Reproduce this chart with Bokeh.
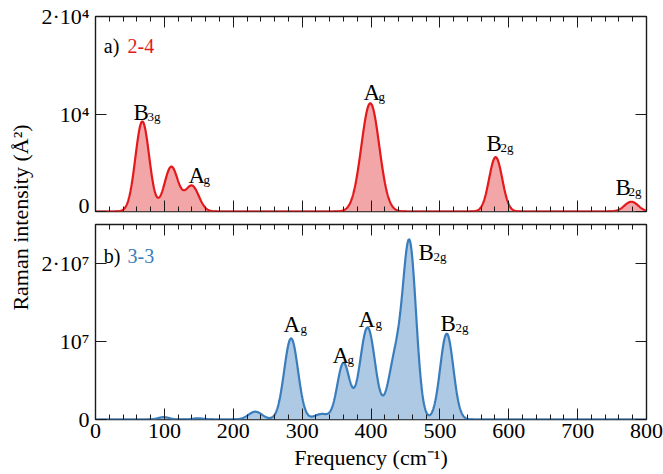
import numpy as np
from bokeh.plotting import figure
from bokeh.layouts import row, column
from bokeh.models import LinearAxis, FixedTicker, Range1d, CustomJSTickFormatter
from bokeh.core.properties import value
from bokeh.embed import file_html
from bokeh.resources import INLINE

FONT = "Liberation Serif"

# ---------------- data ----------------
# x axis
x_ticks = [0, 100, 200, 300, 400, 500, 600, 700, 800]
x_minor = list(range(0, 801, 20))

# panel a) 2-4 : Raman modes (frequency cm^-1, peak intensity A^2, broadening)
freq_a = [68, 110, 140, 399, 581, 778]
amp_a = [9230, 4570, 2620, 11100, 5570, 1000]
width_a = [10, 10, 10, 13, 9.5, 10]
yticks_a = [0, 10000, 20000]
ylabels_a = {0: "0", 10000: "10\u2074", 20000: "2\u00b710\u2074"}

# panel b) 3-3
freq_b = [99, 149, 232, 284, 328, 360, 395, 435, 456, 510]
amp_b = [0.03e7, 0.015e7, 0.1e7, 1.04e7, 0.07e7, 0.72e7, 1.18e7, 0.75e7, 2.22e7, 1.1e7]
width_b = [8, 8, 10, 10, 10, 9, 11, 10, 9.5, 9.5]
yticks_b = [0, 10000000, 20000000]
ylabels_b = {0: "0", 10000000: "10\u2077", 20000000: "2\u00b710\u2077"}

# mode labels: (main, subscript, x_main, y_main, x_sub, y_sub)
marks_a = [
    ("B", "3g", 55.2, 10154, 75.5, 9744),
    ("A", "g", 135.0, 3692, 156.8, 3282),
    ("A", "g", 389.1, 12205, 410.9, 11795),
    ("B", "2g", 567.7, 6974, 588.0, 6564),
    ("B", "2g", 755.0, 2462, 773.9, 2051),
]
marks_b = [
    ("A", "g", 273.0, 1.218e7, 297.6, 1.167e7),
    ("A", "g", 344.1, 0.8205e7, 365.9, 0.769e7),
    ("A", "g", 381.9, 1.282e7, 406.5, 1.231e7),
    ("B", "2g", 469.0, 2.141e7, 490.7, 2.09e7),
    ("B", "2g", 500.9, 1.231e7, 522.7, 1.179e7),
]

RED, RED_FILL = "#e3191c", "#f3a6a8"
BLUE, BLUE_FILL = "#3a7dbd", "#aec9e3"
INK = "#1a1a1a"

xs = np.linspace(0, 800, 1601)


def spectrum(freqs, amps, widths):
    y = np.zeros_like(xs)
    for f, a, w in zip(freqs, amps, widths):
        y += a * np.exp(-((xs - f) ** 2) / (2.0 * w * w))
    return y


def style_axis(ax, show_labels):
    ax.axis_line_color = None
    ax.major_tick_in = 11
    ax.major_tick_out = 0
    ax.minor_tick_in = 5
    ax.minor_tick_out = 0
    ax.major_tick_line_color = INK
    ax.minor_tick_line_color = INK
    ax.major_tick_line_width = 1
    ax.minor_tick_line_width = 1
    ax.major_label_text_font = FONT
    ax.major_label_text_color = "black"
    ax.axis_label_text_font = FONT
    ax.axis_label_text_font_style = "normal"
    ax.axis_label_text_color = "black"
    if show_labels:
        ax.major_label_text_font_size = "22px"
    else:
        ax.formatter = CustomJSTickFormatter(code="return ''")
        ax.major_label_text_font_size = "1px"
        ax.major_label_standoff = 0


def make_panel(y_end, yticks, ylabels, freqs, amps, widths, color, fill,
               tag, tag_y, marks, bottom, top_border, bottom_border):
    p = figure(frame_width=551, frame_height=195,
               x_range=Range1d(0, 800), y_range=Range1d(0, y_end),
               output_backend="svg", toolbar_location=None,
               min_border_left=57, min_border_right=17,
               min_border_top=top_border, min_border_bottom=bottom_border)
    p.grid.visible = False
    p.outline_line_color = INK
    p.outline_line_width = 1.4
    p.background_fill_color = "white"
    p.border_fill_color = "white"
    p.add_layout(LinearAxis(), "above")
    p.add_layout(LinearAxis(), "right")

    for ax in p.xaxis:
        ax.ticker = FixedTicker(ticks=x_ticks, minor_ticks=x_minor)
    for ax in p.yaxis:
        ax.ticker = FixedTicker(ticks=yticks, minor_ticks=[])

    style_axis(p.above[0], False)
    style_axis(p.right[0], False)
    left = p.left[0]
    style_axis(left, True)
    left.major_label_overrides = ylabels
    left.major_label_standoff = 6
    bx = p.below[0]
    if bottom:
        style_axis(bx, True)
        bx.major_label_standoff = 4
        bx.axis_label = "Frequency (cm\u207b\u00b9)"
        bx.axis_label_text_font_size = "22px"
        bx.axis_label_standoff = 4
    else:
        style_axis(bx, False)

    y = spectrum(freqs, amps, widths)
    p.varea(x=xs, y1=np.zeros_like(xs), y2=y, fill_color=fill, fill_alpha=1.0)
    p.line(xs, y, line_color=color, line_width=2.2)

    # panel tag
    p.text(x=[12], y=[tag_y], text=[tag[0]], text_font=value(FONT),
           text_font_size="20px", text_color="black",
           text_align="left", text_baseline="alphabetic")
    p.text(x=[46.5], y=[tag_y], text=[tag[1]], text_font=value(FONT),
           text_font_size="20px", text_color=color,
           text_align="left", text_baseline="alphabetic")

    # mode labels
    p.text(x=[m[2] for m in marks], y=[m[3] for m in marks],
           text=[m[0] for m in marks], text_font=value(FONT),
           text_font_size="23px", text_color="black",
           text_align="left", text_baseline="alphabetic")
    p.text(x=[m[4] for m in marks], y=[m[5] for m in marks],
           text=[m[1] for m in marks], text_font=value(FONT),
           text_font_size="13px", text_color="black",
           text_align="left", text_baseline="alphabetic")
    return p


top = make_panel(20000, yticks_a, ylabels_a, freq_a, amp_a, width_a, RED, RED_FILL,
                 ("a)", "2-4"), 17025, marks_a, False, 16, 6)
bot = make_panel(2.5e7, yticks_b, ylabels_b, freq_b, amp_b, width_b, BLUE, BLUE_FILL,
                 ("b)", "3-3"), 2.1e7, marks_b, True, 7, 40)

# shared y axis title
lab = figure(width=38, height=474, x_range=Range1d(0, 38), y_range=Range1d(0, 474),
             output_backend="svg", toolbar_location=None,
             x_axis_location=None, y_axis_location=None, min_border=0)
lab.grid.visible = False
lab.outline_line_color = None
lab.background_fill_color = "white"
lab.border_fill_color = "white"
lab.text(x=[20], y=[257], text=["Raman intensity (\u00c5\u00b2)"], angle=np.pi / 2,
         text_font=value(FONT), text_font_size="22px", text_color="black",
         text_align="center", text_baseline="middle")

layout = row(lab, column(top, bot, spacing=0), spacing=0)

with open("out.html", "w") as f:
    f.write(file_html(layout, INLINE))
